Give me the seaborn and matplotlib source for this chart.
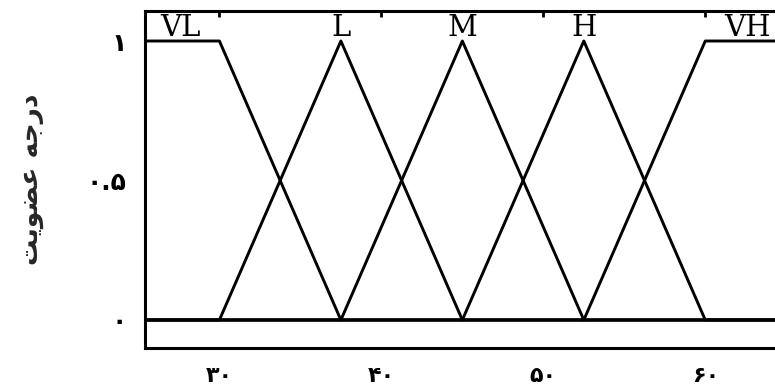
import matplotlib
matplotlib.use("Agg")
import matplotlib.pyplot as plt
import seaborn as sns
import pandas as pd

# Fuzzy sets of the input variable (breakpoints and membership degrees)
set_names = ["VL", "L", "M", "H", "VH"]
vl_x = [20, 30, 37.5, 70]
vl_y = [1, 1, 0, 0]
l_x = [20, 30, 37.5, 45, 70]
l_y = [0, 0, 1, 0, 0]
m_x = [20, 37.5, 45, 52.5, 70]
m_y = [0, 0, 1, 0, 0]
h_x = [20, 45, 52.5, 60, 70]
h_y = [0, 0, 1, 0, 0]
vh_x = [20, 52.5, 60, 70]
vh_y = [0, 0, 1, 1]

# Positions of the set names above the curves
label_x = [27.6, 37.5, 45, 52.5, 62.6]

x_ticks = [30, 40, 50, 60]
x_tick_labels = ["۳۰", "۴۰", "۵۰", "۶۰"]
y_ticks = [0, 0.5, 1]
y_tick_labels = ["۰", "۰.۵", "۱"]
# "درجه عضویت" written in shaped presentation forms, visual order
y_label = "\ufe96\ufbfe\ufeee\ufec0\ufecb \ufeea\ufe9f\ufead\ufea9"

sns.set_theme(style="white")
plt.rcParams["font.family"] = ["DejaVu Sans"]

rows = []
for name, xs, ys in zip(set_names, [vl_x, l_x, m_x, h_x, vh_x], [vl_y, l_y, m_y, h_y, vh_y]):
    for xv, yv in zip(xs, ys):
        rows.append({"set": name, "x": xv, "mu": yv})
df = pd.DataFrame(rows)

fig = plt.figure(figsize=(7.75, 3.85), dpi=100)
ax = fig.add_axes([0.187, 0.0961, 0.932, 0.8753])

sns.lineplot(data=df, x="x", y="mu", hue="set", palette=["black"] * 5,
             legend=False, linewidth=2.1, ax=ax, sort=False, estimator=None)

ax.set_xlim(25.4, 70)
ax.set_ylim(-0.1004, 1.1075)

for name, lx in zip(set_names, label_x):
    ax.text(lx, 0.995, name, ha="center", va="bottom", fontsize=21,
            family="DejaVu Serif", color="black")

ax.set_xticks(x_ticks)
ax.set_xticklabels(x_tick_labels, fontsize=16, fontweight="bold")
ax.set_yticks(y_ticks)
ax.set_yticklabels(y_tick_labels, fontsize=18, fontweight="bold")
ax.tick_params(axis="both", direction="in", length=4, width=2, top=True, right=True,
               colors="black")
ax.tick_params(axis="x", pad=13)
ax.tick_params(axis="y", pad=13)

ax.set_xlabel("")
ax.set_ylabel(y_label, fontsize=19, fontweight="bold", labelpad=31)

for sp in ax.spines.values():
    sp.set_color("black")
    sp.set_linewidth(2.2)

fig.savefig("out.png", dpi=100)
